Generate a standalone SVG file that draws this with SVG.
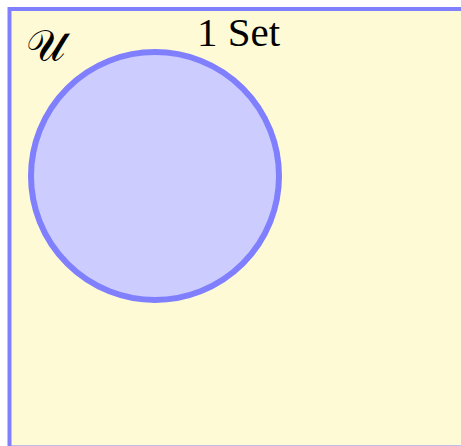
<svg xmlns="http://www.w3.org/2000/svg" width="461" height="446" viewBox="0 0 461 446">
<style>
.u{fill:#FFFAD6;stroke:#8080FF;stroke-width:4}
.set{fill:#CCCCFF;stroke:#8080FF;stroke-width:6}
</style>
<g id="universe">
<rect class="u" x="9.5" y="9" width="470" height="438.5"/>
<text x="26" y="61" font-family="Liberation Serif" font-size="44" fill="#000">𝒰</text>
</g>
<g id="setA">
<circle class="set" cx="155" cy="176" r="124"/>
</g>
<g id="label">
<text x="197" y="46" font-family="Liberation Serif" font-size="41" fill="#000">1 Set</text>
</g>
<g id="connectors"/>
</svg>
